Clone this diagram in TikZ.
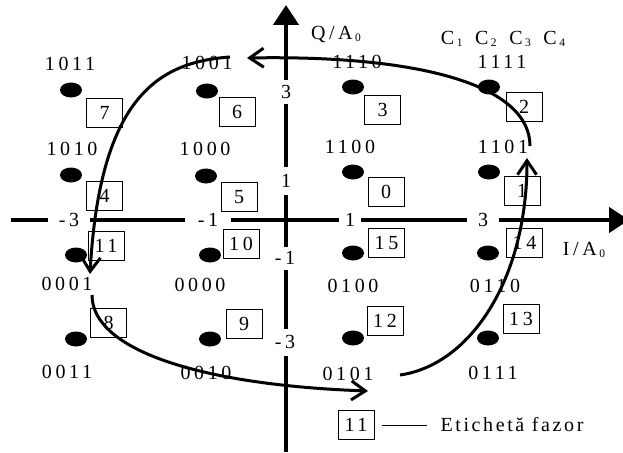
\documentclass[tikz,border=0pt]{standalone}
\usepackage{fontspec}
\setmainfont{Liberation Serif}
\newfontfamily\spaced[LetterSpace=18]{Liberation Serif}
\newfontfamily\spacedlight[LetterSpace=13]{Liberation Serif}
\usetikzlibrary{arrows.meta,shapes.geometric}

% small lowered index, as in A_0 and C_1
\newcommand\lowidx[1]{\kern2.5pt{\fontsize{11.5}{12}\selectfont\raisebox{-1.5pt}{#1}}}

\begin{document}
\begin{tikzpicture}[x=1pt,y=-1pt,
  txt/.style={font=\spaced\fontsize{20}{22}\selectfont, inner sep=0pt},
  tag/.style={draw, line width=1pt, minimum width=36pt, minimum height=29pt,
              inner sep=0pt, font=\spaced\fontsize{20}{22}\selectfont},
  dot/.style={ellipse, fill=black, minimum width=22pt, minimum height=15pt, inner sep=0pt},
  axisline/.style={line width=4.5pt, -{Triangle[length=20pt,width=25pt]}},
  trail/.style={line width=3pt, -{Straight Barb[length=14pt,width=19pt]}},
  tick/.style={fill=white, inner sep=0pt, font=\spaced\fontsize{20}{22}\selectfont}
]
\useasboundingbox (0,0) rectangle (623,452);

% axes
\coordinate (xs) at (11,220);
\coordinate (xe) at (629,220);
\coordinate (ys) at (286,452);
\coordinate (ye) at (286,5);
\draw[axisline] (xs) -- (xe);
\draw[axisline] (ys) -- (ye);

% axis graduations (white boxes cut the axis lines)
\node[tick, minimum width=42pt, minimum height=10pt] (hm3) at (69,220) {-3};
\node[tick, minimum width=46pt, minimum height=10pt] (hm1) at (208,220) {-1};
\node[tick, minimum width=22pt, minimum height=10pt] (hp1) at (350,220) {1};
\node[tick, minimum width=32pt, minimum height=10pt] (hp3) at (483,220) {3};
\node[tick, minimum width=12pt, minimum height=24pt] (vp3) at (286,92) {3};
\node[tick, minimum width=12pt, minimum height=28pt] (vp1) at (286,181) {1};
\node[tick, minimum width=12pt, minimum height=23pt] (vm1) at (285,258) {-1};
\node[tick, minimum width=12pt, minimum height=27pt] (vm3) at (285,342) {-3};

% axis names
\node[txt] (qlab) at (336,35) {Q/A\lowidx{0}};
\node[txt] (ilab) at (584,250) {I/A\lowidx{0}};
\node[txt] (clab) at (503,39) {C\lowidx{1}\kern4pt\ C\lowidx{2}\kern4pt\ C\lowidx{3}\kern4pt\ C\lowidx{4}};

% constellation points
\node[dot] (d1011) at (71,90) {};
\node[dot] (d1001) at (207,91) {};
\node[dot] (d1110) at (353,87) {};
\node[dot] (d1111) at (489,87) {};
\node[dot] (d1010) at (71,175) {};
\node[dot] (d1000) at (206,176) {};
\node[dot] (d1100) at (353,172) {};
\node[dot] (d1101) at (489,172) {};
\node[dot] (d0001) at (76,255) {};
\node[dot] (d0000) at (210,255) {};
\node[dot] (d0100) at (353,253) {};
\node[dot] (d0110) at (488,253) {};
\node[dot] (d0011) at (76,339) {};
\node[dot] (d0010) at (210,339) {};
\node[dot] (d0101) at (353,338) {};
\node[dot] (d0111) at (488,338) {};

% bit patterns
\node[txt] (b1011) at (70,64) {1011};
\node[txt] (b1001) at (207,63) {1001};
\node[txt] (b1110) at (357,62) {1110};
\node[txt] (b1111) at (502,62) {1111};
\node[txt] (b1010) at (72,149) {1010};
\node[txt] (b1000) at (205,149) {1000};
\node[txt] (b1100) at (350,147) {1100};
\node[txt] (b1101) at (503,147) {1101};
\node[txt] (b0001) at (67,284) {0001};
\node[txt] (b0000) at (200,285) {0000};
\node[txt] (b0100) at (353,286) {0100};
\node[txt] (b0110) at (495,286) {0110};
\node[txt] (b0011) at (67,372) {0011};
\node[txt] (b0010) at (206,373) {0010};
\node[txt] (b0101) at (348,374) {0101};
\node[txt] (b0111) at (493,373) {0111};

% phasor labels
\node[tag] (t7)  at (104.5,112.5) {7};
\node[tag] (t6)  at (237,111.5) {6};
\node[tag] (t3)  at (382.5,109.5) {3};
\node[tag] (t2)  at (524,106.5) {2};
\node[tag] (t4)  at (104.5,196) {4};
\node[tag] (t5)  at (239,197) {5};
\node[tag] (t0)  at (386,191.5) {0};
\node[tag] (t1)  at (522,191) {1};
\node[tag] (t11) at (106,245.5) {11};
\node[tag] (t10) at (241,243.5) {10};
\node[tag] (t15) at (386.5,242.5) {15};
\node[tag] (t14) at (524.5,242.5) {14};
\node[tag] (t8)  at (108.5,322.5) {8};
\node[tag] (t9)  at (244,323.5) {9};
\node[tag] (t12) at (385,320.5) {12};
\node[tag] (t13) at (521,318.5) {13};

% legend
\node[tag] (leg) at (356,425) {11};
\node[inner sep=0pt, font=\spacedlight\fontsize{20}{22}\selectfont] (legtxt) at (512,425) {Etichetă fazor};
\draw[line width=1pt] ([xshift=7pt]leg.east) -- ([xshift=-13pt]legtxt.west);

% path through the constellation
\coordinate (p1) at (530,146);
\coordinate (p2) at (247,58);
\coordinate (p3) at (230,57);
\coordinate (p4) at (90,274);
\coordinate (p5) at (92,295);
\coordinate (p6) at (368,391);
\coordinate (p7) at (400,375);
\coordinate (p8) at (527,158);
\draw[trail] (p1) .. controls (530,85) and (420,55) .. (p2);
\draw[trail] (p3) .. controls (160,62) and (100,95) .. (p4);
\draw[trail] (p5) .. controls (92,350) and (200,385) .. (p6);
\draw[trail] (p7) .. controls (470,365) and (527,280) .. (p8);
\end{tikzpicture}
\end{document}
